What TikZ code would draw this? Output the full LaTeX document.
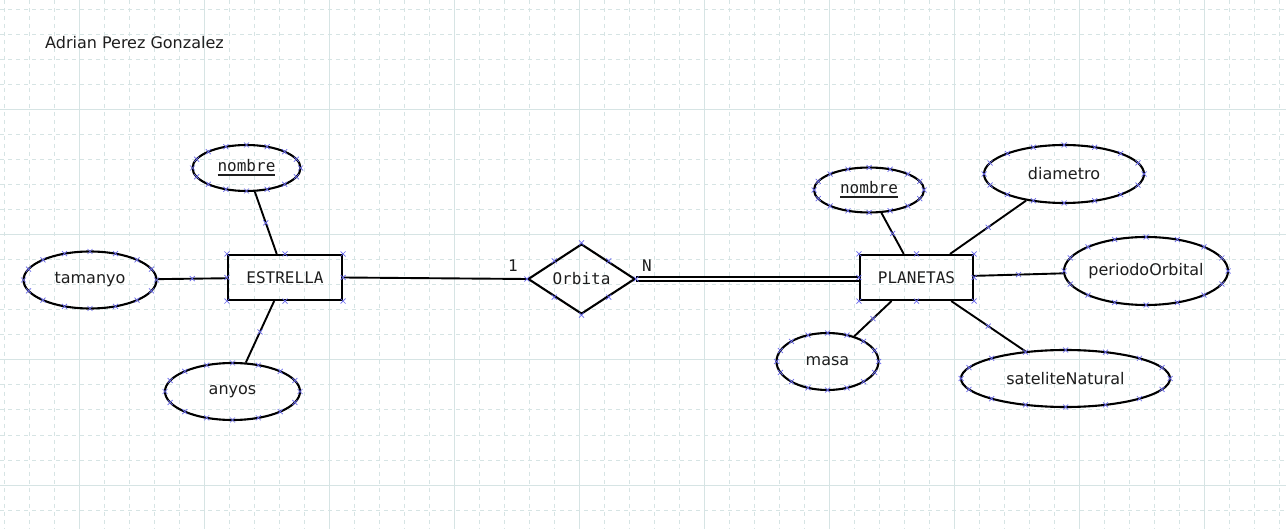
\documentclass[tikz,border=0pt]{standalone}
\usepackage{fontspec}
\setmainfont{DejaVu Sans}
\setmonofont{DejaVu Sans Mono}
\usetikzlibrary{shapes.geometric,calc}
\definecolor{gridc}{RGB}{214,228,228}
\definecolor{markc}{RGB}{105,105,235}
\definecolor{inkc}{RGB}{30,30,30}
% key attribute: text with a thick underline
\newcommand\keyname[1]{\setbox0\hbox{#1}\rlap{\rule[-4.5pt]{\wd0}{2pt}}\box0}

\begin{document}
\begin{tikzpicture}[x=1pt,y=-1pt,
  font=\fontsize{16}{18}\selectfont,
  attr/.style={draw, line width=2.1pt, ellipse, inner sep=0pt, text=inkc},
  entity/.style={draw, line width=2.1pt, rectangle, inner sep=0pt,
    minimum width=114pt, minimum height=45pt, text=inkc,
    font=\ttfamily\fontsize{16}{18}\selectfont},
  rel/.style={draw, line width=2.1pt, diamond, inner sep=0pt, text=inkc,
    font=\ttfamily\fontsize{16}{18}\selectfont},
  card/.style={inner sep=0pt, text=inkc, font=\ttfamily\fontsize{16}{18}\selectfont},
  link/.style={line width=1.9pt},
  xmark/.pic={\draw[markc, line width=0.7pt] (-2.5pt,-2.5pt) -- (2.5pt,2.5pt)
      (-2.5pt,2.5pt) -- (2.5pt,-2.5pt);},
]
\useasboundingbox[fill=white] (0,0) rectangle (1286,529);

% background grid: fine dashed lines, every fifth one solid
\foreach \x in {4,29,...,1279}
  \draw[gridc, line width=1pt, dash pattern=on 4pt off 4pt] (\x,0) -- (\x,529);
\foreach \y in {10,35,...,510}
  \draw[gridc, line width=1pt, dash pattern=on 4pt off 4pt] (0,\y) -- (1286,\y);
\foreach \x in {79,204,...,1204}
  \draw[gridc, line width=1pt] (\x,0) -- (\x,529);
\foreach \y in {110,235,360,485}
  \draw[gridc, line width=1pt] (0,\y) -- (1286,\y);

% author
\node[anchor=base west, inner sep=0pt, text=inkc] (author) at (45,49) {Adrian Perez Gonzalez};

% entities and relationship
\node[entity] (est) at (285,277.5) {ESTRELLA};
\node[entity, minimum width=113pt] (pla) at (916.5,277.5) {PLANETAS};
\node[rel, minimum width=107pt, minimum height=66pt] (orb) at (581.5,279) {Orbita};

% attributes of ESTRELLA
\node[attr, minimum width=108pt, minimum height=46pt] (nomE) at (246.5,168) {\ttfamily\keyname{nombre}};
\node[attr, minimum width=133pt, minimum height=57pt] (tam) at (90,280) {tamanyo};
\node[attr, minimum width=135pt, minimum height=57pt] (any) at (232.5,391.5) {anyos};

% attributes of PLANETAS
\node[attr, minimum width=110pt, minimum height=45pt] (nomP) at (869,190) {\ttfamily\keyname{nombre}};
\node[attr, minimum width=160pt, minimum height=58pt] (dia) at (1064,174) {diametro};
\node[attr, minimum width=164pt, minimum height=68pt] (per) at (1146,271) {periodoOrbital};
\node[attr, minimum width=209pt, minimum height=57pt] (sat) at (1065.5,378.5) {sateliteNatural};
\node[attr, minimum width=102pt, minimum height=57pt] (mas) at (827.5,361.5) {masa};

% cardinalities
\node[card] (one) at (513,266) {1};
\node[card] (many) at (647,266) {N};

% connectors
\draw[link] (nomE) -- (est) pic[pos=.5]{xmark};
\draw[link] (tam) -- (est) pic[pos=.5]{xmark};
\draw[link] (est) -- (any) pic[pos=.5]{xmark};
\draw[link] (est.east) -- (orb.west);
\draw[line width=1.8pt, double=white, double distance=2.8pt] (orb.east) -- (orb.east -| pla.west);
\draw[link] (nomP) -- (pla) pic[pos=.5]{xmark};
\draw[link] (pla) -- (dia) pic[pos=.5]{xmark};
\draw[link] (pla) -- (per) pic[pos=.5]{xmark};
\draw[link] (pla) -- (sat) pic[pos=.5]{xmark};
\draw[link] (pla) -- (mas) pic[pos=.5]{xmark};

% handle marks on the shapes
\foreach \n/\rx/\ry in {nomE/54/23, tam/66.5/28.5, any/67.5/28.5, nomP/55/22.5,
    dia/80/29, per/82/34, sat/104.5/28.5, mas/51/28.5}
  \foreach \t in {0,22.5,...,337.5}
    \pic at ($(\n)+({\rx*cos(\t)},{\ry*sin(\t)})$) {xmark};
\foreach \n in {est,pla}
  \foreach \a in {north west,north,north east,east,south east,south,south west,west}
    \pic at (\n.\a) {xmark};
\foreach \a in {north,east,south,west}
  \pic at (orb.\a) {xmark};
\pic at ($(orb.north)!.5!(orb.east)$) {xmark};
\pic at ($(orb.east)!.5!(orb.south)$) {xmark};
\pic at ($(orb.south)!.5!(orb.west)$) {xmark};
\pic at ($(orb.west)!.5!(orb.north)$) {xmark};
\end{tikzpicture}
\end{document}
